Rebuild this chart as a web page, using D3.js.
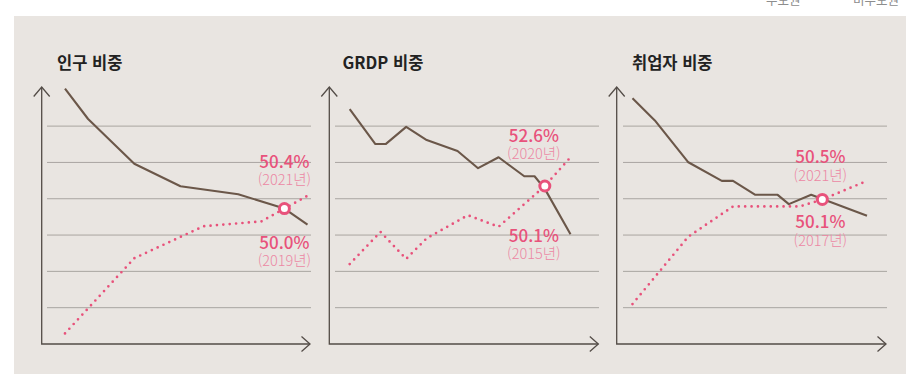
<!DOCTYPE html>
<html lang="ko">
<head>
<meta charset="utf-8">
<script src="https://cdn.jsdelivr.net/npm/d3@7"></script>
<style>
  html, body { margin: 0; padding: 0; background: #ffffff; }
  svg { display: block; font-family: "Noto Sans CJK KR", "Noto Sans", sans-serif; }
</style>
</head>
<body>
<script>
// ---- data ---------------------------------------------------------------
const legendLabels = ["수도권", "비수도권"];
const panelTitles = ["인구 비중", "GRDP 비중", "취업자 비중"];

// population share (%)
const popYearsNonCapital = [2000, 2002, 2006, 2010, 2015, 2019, 2021];
const popNonCapital      = [53.75, 52.8, 51.4, 50.7, 50.45, 50.0, 49.5];
const popYearsCapital    = [2000, 2006, 2012, 2017, 2019, 2021];
const popCapital         = [46.1, 48.45, 49.45, 49.6, 50.0, 50.4];

// GRDP share (%)
const grdpYearsNonCapital = [1977, 1982, 1984, 1988, 1992, 1998, 2002, 2006, 2011, 2013, 2015, 2020];
const grdpNonCapital      = [56.8, 53.75, 53.75, 55.25, 54.1, 53.15, 51.65, 52.6, 50.95, 50.95, 49.85, 45.9];
const grdpYearsCapital    = [1977, 1983, 1988, 1992, 2000, 2006, 2015, 2020];
const grdpCapital         = [43.3, 46.1, 43.75, 45.55, 47.55, 46.55, 50.1, 52.6];

// employment share (%)
const empYearsNonCapital = [2000, 2002, 2005, 2008, 2009, 2011, 2013, 2014, 2016, 2021];
const empNonCapital      = [52.28, 51.8, 50.9, 50.5, 50.5, 50.2, 50.2, 50.0, 50.2, 49.75];
const empYearsCapital    = [2000, 2005, 2009, 2015, 2017, 2021];
const empCapital         = [47.85, 49.3, 49.95, 49.95, 50.1, 50.5];

// highlighted points: the year the capital area passes half, and the latest year
const crossYears  = [2019, 2015, 2017];
const crossValues = [50.0, 50.1, 50.1];
const latestYears  = [2021, 2020, 2021];
const latestValues = [50.4, 52.6, 50.5];

// value domains and year domains of each small multiple
const yDomains = [[45.77, 53.80], [36.34, 58.72], [46.99, 52.52]];
const xDomains = [[2000, 2021], [1977, 2020], [2000, 2021]];

// ---- layout & style -----------------------------------------------------
const W = 906, H = 374;
const plotTop = 87, plotBottom = 344;
const frames = [
  { axisX: 41.7,  arrowX: 310,   gridX0: 47,  gridX1: 311, xRange: [65, 307.5],    titleX: 57,
    label: { dx: 0,   topDy: -41, bottomDy: 40 } },
  { axisX: 329.3, arrowX: 598.3, gridX0: 335, gridX1: 599, xRange: [349.7, 570.5], titleX: 342.5,
    label: { dx: -11, topDy: -44, bottomDy: 56 } },
  { axisX: 616.7, arrowX: 886,   gridX0: 623, gridX1: 887, xRange: [632.5, 867],   titleX: 632,
    label: { dx: -2,  topDy: -36, bottomDy: 29 } }
];
const C = {
  bg: "#e9e5e1",
  grid: "#a9a5a1",
  axis: "#534c47",
  brown: "#6b5749",
  pink: "#e8527b",
  pinkLight: "#ec88a4",
  title: "#222222"
};

const panels = [
  { title: panelTitles[0], nonYears: popYearsNonCapital,  non: popNonCapital,  capYears: popYearsCapital,  cap: popCapital },
  { title: panelTitles[1], nonYears: grdpYearsNonCapital, non: grdpNonCapital, capYears: grdpYearsCapital, cap: grdpCapital },
  { title: panelTitles[2], nonYears: empYearsNonCapital,  non: empNonCapital,  capYears: empYearsCapital,  cap: empCapital }
];

const svg = d3.select("body").append("svg")
  .attr("width", W).attr("height", H)
  .attr("viewBox", `0 0 ${W} ${H}`);

// legend row (sits at the very top edge)
svg.selectAll("text.legend").data(legendLabels).join("text")
  .attr("class", "legend")
  .attr("x", (d, i) => i === 0 ? 766 : 853)
  .attr("y", 4.5)
  .attr("font-size", 12.5)
  .attr("fill", "#8d8d8d")
  .text(d => d);

// panel background
svg.append("rect")
  .attr("x", 14).attr("y", 16)
  .attr("width", W - 14).attr("height", H - 16)
  .attr("fill", C.bg);

// shared frame scale for the horizontal guide lines
const gridScale = d3.scaleLinear().domain([0, 7]).range([plotBottom, 89.8]);
const gridSteps = d3.range(1, 7);

panels.forEach((p, i) => {
  const f = frames[i];
  const g = svg.append("g");
  const x = d3.scaleLinear().domain(xDomains[i]).range(f.xRange);
  const y = d3.scaleLinear().domain(yDomains[i]).range([plotBottom, plotTop]);

  // guide lines
  g.selectAll("line.grid").data(gridSteps).join("line")
    .attr("x1", f.gridX0).attr("x2", f.gridX1)
    .attr("y1", d => gridScale(d)).attr("y2", d => gridScale(d))
    .attr("stroke", C.grid).attr("stroke-width", 1);

  // axes with open arrow heads
  const axis = g.append("g")
    .attr("fill", "none").attr("stroke", C.axis)
    .attr("stroke-width", 1.3).attr("stroke-linejoin", "miter");
  axis.append("path")
    .attr("d", `M${f.axisX},${plotTop} V${plotBottom} H${f.arrowX}`);
  axis.append("path")
    .attr("d", `M${f.axisX - 8},${plotTop + 9.5} L${f.axisX},${plotTop} L${f.axisX + 8},${plotTop + 9.5}`);
  axis.append("path")
    .attr("d", `M${f.arrowX - 8.5},${plotBottom - 7.5} L${f.arrowX},${plotBottom} L${f.arrowX - 8.5},${plotBottom + 7.5}`);

  const line = d3.line().x(d => x(d[0])).y(d => y(d[1]));

  // non-capital area: solid brown
  g.append("path")
    .datum(d3.zip(p.nonYears, p.non))
    .attr("d", line)
    .attr("fill", "none")
    .attr("stroke", C.brown)
    .attr("stroke-width", 2.1)
    .attr("stroke-linejoin", "round");

  // capital area: pink dots
  g.append("path")
    .datum(d3.zip(p.capYears, p.cap))
    .attr("d", line)
    .attr("fill", "none")
    .attr("stroke", C.pink)
    .attr("stroke-width", 2.7)
    .attr("stroke-linecap", "round")
    .attr("stroke-dasharray", "0 6.4");

  // crossing marker
  const cx = x(crossYears[i]), cy = y(crossValues[i]);
  g.append("circle")
    .attr("cx", cx).attr("cy", cy).attr("r", 5)
    .attr("fill", "#ffffff")
    .attr("stroke", C.pink).attr("stroke-width", 3);

  // value labels
  const lx = cx + f.label.dx;
  const labels = [
    { v: latestValues[i], yr: latestYears[i], dy: f.label.topDy },
    { v: crossValues[i],  yr: crossYears[i],  dy: f.label.bottomDy }
  ];
  labels.forEach(l => {
    g.append("text")
      .attr("x", lx).attr("y", cy + l.dy)
      .attr("text-anchor", "middle")
      .attr("font-size", 17).attr("font-weight", 500)
      .attr("fill", C.pink)
      .text(`${l.v.toFixed(1)}%`);
    g.append("text")
      .attr("x", lx).attr("y", cy + l.dy + 17.5)
      .attr("text-anchor", "middle")
      .attr("font-size", 14.5).attr("font-weight", 300)
      .attr("fill", C.pinkLight)
      .text(`(${l.yr}년)`);
  });

  // panel title
  g.append("text")
    .attr("x", f.titleX).attr("y", 69)
    .attr("font-size", 16.5).attr("font-weight", 700)
    .attr("fill", C.title)
    .text(p.title);
});
</script>
</body>
</html>
